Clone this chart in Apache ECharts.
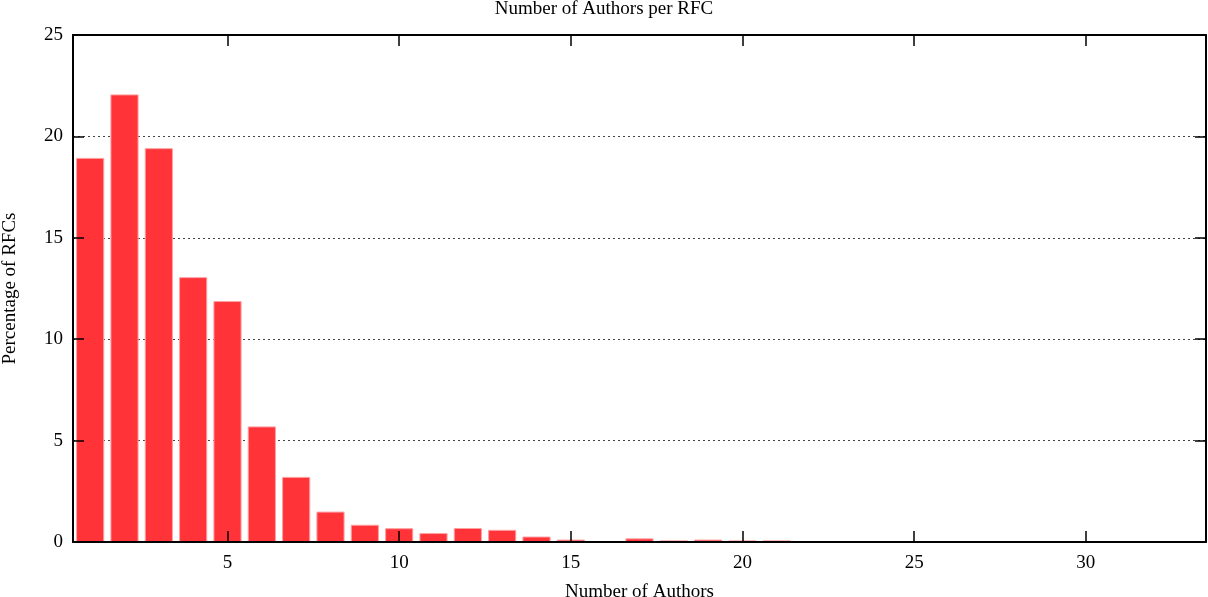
<!DOCTYPE html>
<html>
<head>
<meta charset="utf-8">
<title>Number of Authors per RFC</title>
<script src="https://cdn.jsdelivr.net/npm/echarts@6/dist/echarts.min.js"></script>
<style>
    html, body { margin: 0; padding: 0; background: #fff; }
    #chart { width: 1208px; height: 597px; }
</style>
</head>
<body>
<div id="chart"></div>
<script>
    // 作者人数 1..33
    var authorCounts = ['1','2','3','4','5','6','7','8','9','10','11','12','13','14','15','16','17',
        '18','19','20','21','22','23','24','25','26','27','28','29','30','31','32','33'];
    // RFC 百分比
    var rfcPercent = [18.94, 22.07, 19.42, 13.06, 11.88, 5.70, 3.21, 1.50, 0.85, 0.68, 0.44, 0.69, 0.60,
        0.27, 0.12, 0.05, 0.18, 0.08, 0.12, 0.08, 0.08, 0.03, 0, 0, 0, 0, 0, 0, 0.03, 0, 0, 0, 0.03];
    var yMin = 0, yMax = 25, yStep = 5;

    var myChart = echarts.init(document.getElementById('chart'));
    var font = 'Liberation Serif';

    function everyFifth(index, value) {
        return Number(value) % 5 === 0;
    }

    var frameLine = { show: true, onZero: false, lineStyle: { color: '#000', width: 2 } };

    var option = {
        animation: false,
        title: {
            text: 'Number of Authors per RFC',
            left: 'center',
            top: 0,
            padding: 0,
            textStyle: { fontFamily: font, fontSize: 19, fontWeight: 'normal', color: '#000' }
        },
        grid: { left: 73, right: 2, top: 35, bottom: 55, containLabel: false, outerBoundsMode: 'none' },
        xAxis: [
            {
                type: 'category',
                data: authorCounts,
                position: 'bottom',
                z: 10,
                name: 'Number of Authors',
                nameLocation: 'middle',
                nameGap: 41,
                nameTextStyle: { fontFamily: font, fontSize: 19, color: '#000' },
                axisLine: frameLine,
                axisTick: { show: true, inside: true, length: 11, alignWithLabel: true,
                    interval: everyFifth, lineStyle: { color: '#000', width: 1.5 } },
                axisLabel: { interval: everyFifth, margin: 12, fontFamily: font, fontSize: 19, color: '#000' },
                splitLine: { show: false }
            },
            {
                type: 'category',
                data: authorCounts,
                position: 'top',
                z: 10,
                axisLine: frameLine,
                axisTick: { show: true, inside: true, length: 11, alignWithLabel: true,
                    interval: everyFifth, lineStyle: { color: '#000', width: 1.5 } },
                axisLabel: { show: false },
                splitLine: { show: false }
            }
        ],
        yAxis: [
            {
                type: 'value',
                min: yMin, max: yMax, interval: yStep,
                position: 'left',
                z: 10,
                name: 'Percentage of RFCs',
                nameLocation: 'middle',
                nameGap: 53,
                nameTextStyle: { fontFamily: font, fontSize: 19, color: '#000' },
                axisLine: frameLine,
                axisTick: { show: true, inside: true, length: 11, lineStyle: { color: '#000', width: 1.5 } },
                axisLabel: { margin: 10, fontFamily: font, fontSize: 19, color: '#000' },
                splitLine: { show: false }
            },
            {
                type: 'value',
                min: yMin, max: yMax, interval: yStep,
                position: 'right',
                axisLine: frameLine,
                axisTick: { show: true, inside: true, length: 11, lineStyle: { color: '#000', width: 1.5 } },
                axisLabel: { show: false },
                splitLine: { show: true, lineStyle: { color: '#444', width: 1, type: [2, 3] } }
            }
        ],
        series: [
            {
                type: 'bar',
                data: rfcPercent,
                xAxisIndex: 0,
                yAxisIndex: 0,
                barCategoryGap: '18%',
                itemStyle: { color: '#ff3338', borderColor: '#ff9fa2', borderWidth: 1 }
            }
        ]
    };

    myChart.setOption(option);
</script>
</body>
</html>
